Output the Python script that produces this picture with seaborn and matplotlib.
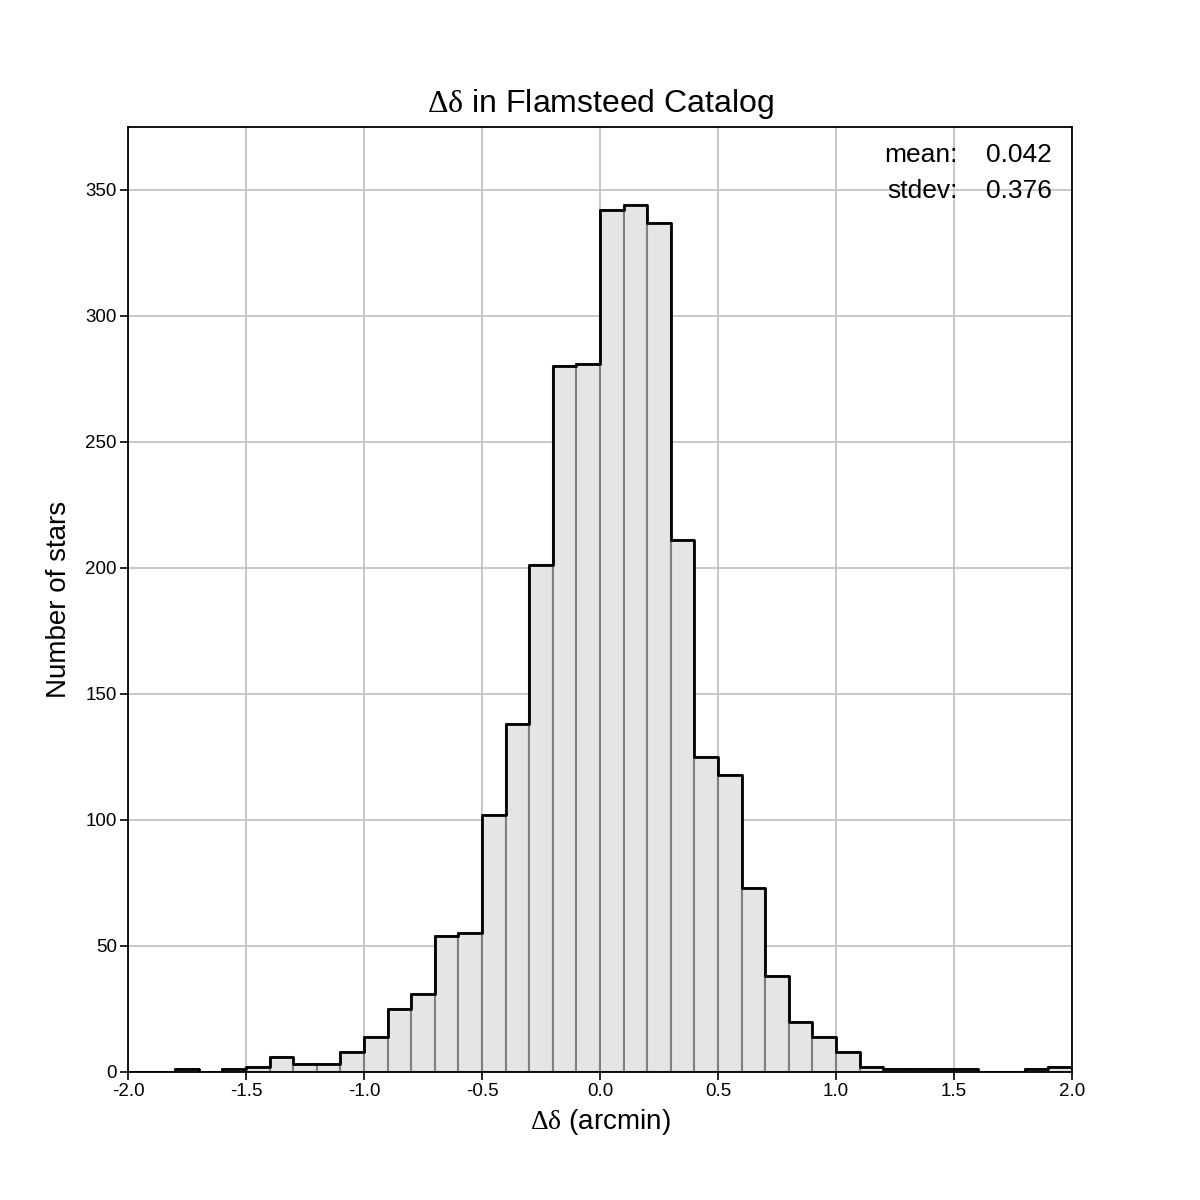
import numpy as np
import pandas as pd
import matplotlib
matplotlib.use("Agg")
import matplotlib.pyplot as plt
import seaborn as sns

bin_left = [round(-2.0 + 0.1 * i, 1) for i in range(40)]
counts = [0, 0, 1, 0, 1, 2, 6, 3, 3, 8,
          14, 25, 31, 54, 55, 102, 138, 201, 280, 281,
          342, 344, 337, 211, 125, 118, 73, 38, 20, 14,
          8, 2, 1, 1, 1, 1, 0, 0, 1, 2]
bin_edges = [round(-2.0 + 0.1 * i, 1) for i in range(41)]
y_ticks = [0, 50, 100, 150, 200, 250, 300, 350]
x_ticks = [-2.0, -1.5, -1.0, -0.5, 0.0, 0.5, 1.0, 1.5, 2.0]
stats_labels = ["mean:", "stdev:"]
stats_values = ["0.042", "0.376"]

df = pd.DataFrame({"x": [b + 0.05 for b in bin_left], "w": counts})

sns.set_style("white")
plt.rcParams['font.family'] = ['Liberation Sans', 'DejaVu Sans']
plt.rcParams['mathtext.fontset'] = 'custom'
plt.rcParams['mathtext.rm'] = 'Liberation Serif'
plt.rcParams['mathtext.it'] = 'Liberation Serif'
plt.rcParams['text.color'] = 'black'
plt.rcParams['axes.labelcolor'] = 'black'
plt.rcParams['xtick.color'] = 'black'
plt.rcParams['ytick.color'] = 'black'

fig = plt.figure(figsize=(12, 12), dpi=100)
ax = fig.add_axes([0.1067, 0.1067, 0.7866, 0.7875])

sns.histplot(data=df, x="x", weights="w", bins=bin_edges, element="bars",
             color="#e5e5e5", alpha=1, edgecolor="#808080", linewidth=1.5, ax=ax,
             zorder=2)
sns.histplot(data=df, x="x", weights="w", bins=bin_edges, element="step",
             fill=False, color="black", linewidth=2, ax=ax, zorder=3)

ax.set_xlim(-2.0, 2.0)
ax.set_ylim(0, 375)
ax.set_xticks(x_ticks)
ax.set_xticklabels([f"{v:.1f}" for v in x_ticks])
ax.set_yticks(y_ticks)
ax.grid(True, color="#c0c0c0", linewidth=1.2, zorder=0)
ax.set_axisbelow(True)
for s in ax.spines.values():
    s.set_color("black")
    s.set_linewidth(1.3)
    s.set_visible(True)
ax.tick_params(axis="both", direction="out", length=6, width=1.2, colors="black",
               labelsize=13.5, pad=2, bottom=True, left=True)

ax.set_xlabel(r"$\mathrm{Δδ}$ (arcmin)", fontsize=20, labelpad=5)
ax.set_ylabel("Number of stars", fontsize=20, labelpad=10)
ax.set_title(r"$\mathrm{Δδ}$ in Flamsteed Catalog", fontsize=23, pad=11)

for i, (lab, val) in enumerate(zip(stats_labels, stats_values)):
    ypos = 0.970 - i * 0.038
    ax.text(0.879, ypos, lab, transform=ax.transAxes, ha="right", va="center", fontsize=19)
    ax.text(0.979, ypos, val, transform=ax.transAxes, ha="right", va="center", fontsize=19)

fig.savefig("out.png", dpi=100)
